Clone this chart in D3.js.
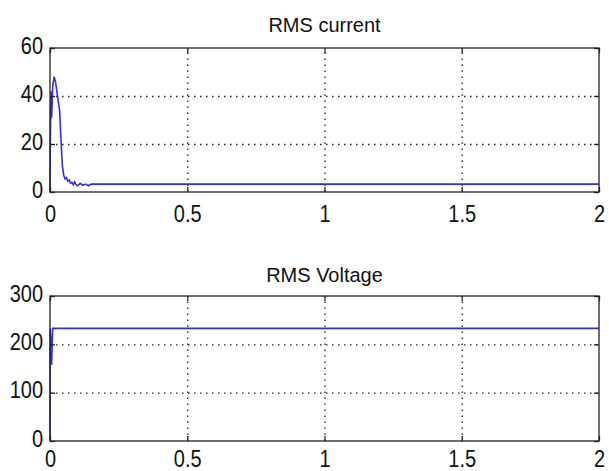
<!DOCTYPE html>
<html>
<head>
<meta charset="UTF-8"/>
<title>RMS current / RMS Voltage</title>
<script src="https://cdn.jsdelivr.net/npm/d3@7"></script>
<style>
body { margin: 0; background: #fff; }
svg { display: block; }
text { font-family: 'Liberation Sans', Arial, sans-serif; fill: #111; }
.box { fill: none; stroke: #222; stroke-width: 1.3; }
.axis path { display: none; }
.axis line { stroke: #222; stroke-width: 1.3; }
.grid path { display: none; }
.grid line { stroke: #222; stroke-width: 1.3; stroke-dasharray: 1.5 4.5; }
.trace { fill: none; stroke: #2f2fe8; stroke-width: 1.6; }
.title { font-size: 20px; }
</style>
</head>
<body>
<svg width="609" height="471"></svg>
<script>
// time axis (s)
const xTicks = [0, 0.5, 1, 1.5, 2];

// RMS current
const curT = [0, 0.002, 0.004, 0.006, 0.01, 0.015, 0.02, 0.025, 0.03, 0.035, 0.04, 0.045, 0.05, 0.055, 0.06,
              0.065, 0.07, 0.075, 0.08, 0.085, 0.09, 0.095, 0.1, 0.11, 0.12, 0.13, 0.14, 0.15, 0.16, 0.17, 2];
const curV = [0, 30, 42, 31, 44, 48, 46, 42, 38, 34, 22, 11, 7, 5.5, 6,
              4.5, 5, 3.6, 4, 3, 4.2, 3, 2.6, 3.6, 2.8, 3.3, 2.6, 3.3, 3.3, 3.3, 3.3];
const curTicks = [0, 20, 40, 60];

// RMS voltage
const voltT = [0, 0.001, 0.004, 0.006, 0.008, 0.01, 2];
const voltV = [0, 233, 200, 158, 205, 233, 233];
const voltTicks = [0, 100, 200, 300];

const svg = d3.select('svg');

const panels = [
  { title: 'RMS current', t: curT, v: curV, yTicks: curTicks, yMax: 60, top: 48, bottom: 192, titleY: 32, xlab: 30 },
  { title: 'RMS Voltage', t: voltT, v: voltV, yTicks: voltTicks, yMax: 300, top: 296, bottom: 441, titleY: 282, xlab: 26 }
];

const left = 50, right = 599;
const sy = 1.2; // labels in the picture are stretched vertically

panels.forEach(p => {
  const x = d3.scaleLinear().domain([0, 2]).range([left, right]);
  const y = d3.scaleLinear().domain([0, p.yMax]).range([p.bottom, p.top]);
  const w = right - left, h = p.bottom - p.top;
  const g = svg.append('g');

  // dotted grid
  g.append('g').attr('class', 'grid')
    .attr('transform', `translate(0,${p.bottom})`)
    .call(d3.axisBottom(x).tickValues(xTicks.slice(1, -1)).tickSize(-h).tickFormat(''));
  g.append('g').attr('class', 'grid')
    .attr('transform', `translate(${left},0)`)
    .call(d3.axisLeft(y).tickValues(p.yTicks.slice(1, -1)).tickSize(-w).tickFormat(''));

  // data
  const line = d3.line().x((d, i) => x(p.t[i])).y(d => y(d));
  g.append('path').attr('class', 'trace').attr('d', line(p.v));

  // box
  g.append('rect').attr('class', 'box')
    .attr('x', left).attr('y', p.top).attr('width', w).attr('height', h);

  // inward ticks on all four sides
  const xb = g.append('g').attr('class', 'axis')
    .attr('transform', `translate(0,${p.bottom})`)
    .call(d3.axisBottom(x).tickValues(xTicks).tickSize(-5).tickFormat(d3.format('')));
  xb.selectAll('text')
    .attr('font-size', 20).attr('dy', 0).attr('y', p.xlab / sy)
    .attr('transform', `scale(1,${sy})`);
  g.append('g').attr('class', 'axis')
    .attr('transform', `translate(0,${p.top})`)
    .call(d3.axisTop(x).tickValues(xTicks).tickSize(-5).tickFormat(''));

  const yl = g.append('g').attr('class', 'axis')
    .attr('transform', `translate(${left},0)`)
    .call(d3.axisLeft(y).tickValues(p.yTicks).tickSize(-5).tickFormat(d3.format('')));
  yl.selectAll('text')
    .attr('font-size', 20).attr('dy', 0).attr('x', -7).attr('y', 5 / sy)
    .attr('transform', `scale(1,${sy})`);
  g.append('g').attr('class', 'axis')
    .attr('transform', `translate(${right},0)`)
    .call(d3.axisRight(y).tickValues(p.yTicks).tickSize(-5).tickFormat(''));

  svg.append('text').attr('class', 'title')
    .attr('x', (left + right) / 2).attr('y', p.titleY)
    .attr('text-anchor', 'middle')
    .text(p.title);
});
</script>
</body>
</html>
